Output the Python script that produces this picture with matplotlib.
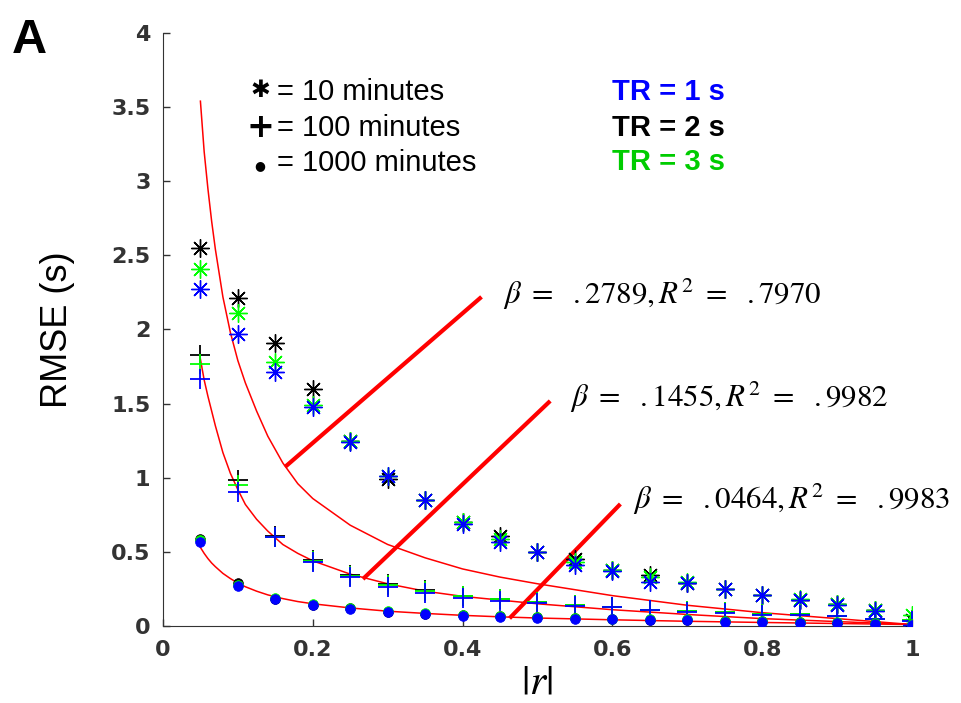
import numpy as np
import matplotlib
matplotlib.use("Agg")
import matplotlib.pyplot as plt

plt.rcParams['mathtext.fontset'] = 'stix'

# correlation values |r|
r = [0.05, 0.10, 0.15, 0.20, 0.25, 0.30, 0.35, 0.40, 0.45, 0.50,
     0.55, 0.60, 0.65, 0.70, 0.75, 0.80, 0.85, 0.90, 0.95, 1.00]

# 10 minutes (asterisk)
m10_tr1 = [2.27, 1.97, 1.71, 1.48, 1.24, 1.01, 0.85, 0.69, 0.57, 0.50,
           0.41, 0.37, 0.30, 0.29, 0.25, 0.21, 0.175, 0.145, 0.10, 0.01]
m10_tr2 = [2.55, 2.21, 1.91, 1.60, 1.25, 0.99, 0.85, 0.70, 0.61, 0.50,
           0.45, 0.38, 0.345, 0.29, 0.25, 0.21, 0.175, 0.15, 0.11, 0.04]
m10_tr3 = [2.41, 2.11, 1.78, 1.49, 1.25, 1.01, 0.85, 0.70, 0.59, 0.50,
           0.43, 0.38, 0.33, 0.30, 0.25, 0.21, 0.18, 0.15, 0.11, 0.075]

# 100 minutes (plus)
m100_tr1 = [1.665, 0.905, 0.60, 0.43, 0.33, 0.265, 0.22, 0.19, 0.17, 0.155,
            0.135, 0.125, 0.105, 0.095, 0.09, 0.075, 0.075, 0.065, 0.045, 0.035]
m100_tr2 = [1.825, 0.985, 0.605, 0.445, 0.345, 0.285, 0.24, 0.205, 0.18, 0.16,
            0.142, 0.13, 0.11, 0.10, 0.095, 0.08, 0.08, 0.07, 0.05, 0.04]
m100_tr3 = [1.77, 0.95, 0.60, 0.44, 0.34, 0.28, 0.235, 0.205, 0.18, 0.16,
            0.14, 0.13, 0.11, 0.10, 0.095, 0.08, 0.08, 0.07, 0.05, 0.04]

# 1000 minutes (dot)
m1000_tr1 = [0.57, 0.27, 0.18, 0.14, 0.115, 0.092, 0.08, 0.07, 0.062, 0.055,
             0.05, 0.045, 0.04, 0.04, 0.03, 0.03, 0.023, 0.02, 0.017, 0.01]
m1000_tr2 = [0.59, 0.29, 0.185, 0.145, 0.12, 0.095, 0.083, 0.073, 0.065, 0.058,
             0.052, 0.047, 0.042, 0.042, 0.032, 0.032, 0.025, 0.022, 0.019, 0.012]
m1000_tr3 = [0.58, 0.28, 0.19, 0.148, 0.122, 0.098, 0.086, 0.076, 0.068, 0.06,
             0.055, 0.05, 0.045, 0.045, 0.035, 0.035, 0.028, 0.025, 0.022, 0.015]

# fitted curves
fit_r = [0.05, 0.055, 0.06, 0.065, 0.07, 0.08, 0.09, 0.10, 0.11, 0.125, 0.14,
         0.16, 0.18, 0.20, 0.25, 0.30, 0.35, 0.40, 0.45, 0.50, 0.60, 0.70,
         0.80, 0.90, 1.00]
fit10 = [3.54, 3.20, 2.95, 2.73, 2.54, 2.22, 1.98, 1.79, 1.64, 1.45, 1.28,
         1.10, 0.96, 0.86, 0.68, 0.55, 0.46, 0.385, 0.33, 0.285, 0.205, 0.14,
         0.09, 0.05, 0.01]
fit100 = [1.80, 1.66, 1.55, 1.45, 1.35, 1.17, 1.03, 0.92, 0.82, 0.72, 0.64,
          0.55, 0.49, 0.44, 0.35, 0.285, 0.235, 0.20, 0.175, 0.15, 0.11, 0.078,
          0.05, 0.03, 0.01]
fit1000 = [0.53, 0.49, 0.455, 0.425, 0.40, 0.355, 0.32, 0.29, 0.265, 0.235, 0.21,
           0.185, 0.165, 0.15, 0.122, 0.10, 0.085, 0.072, 0.062, 0.054, 0.042,
           0.032, 0.024, 0.017, 0.01]

# fit labels and their leader lines
fit_labels = [r'$\beta\ =\ \ .2789, R^2\ =\ \ .7970$',
              r'$\beta\ =\ \ .1455, R^2\ =\ \ .9982$',
              r'$\beta\ =\ \ .0464, R^2\ =\ \ .9983$']
label_pos = [(0.454, 2.173), (0.5434, 1.478), (0.6275, 0.789)]
leader_x = [(0.163, 0.4253), (0.267, 0.517), (0.4627, 0.6107)]
leader_y = [(1.073, 2.22), (0.317, 1.518), (0.052, 0.823)]

tr_labels = ['TR = 1 s', 'TR = 2 s', 'TR = 3 s']
tr_colors = ['#0000ff', '#000000', '#00cc00']
dur_labels = ['= 10 minutes', '= 100 minutes', '= 1000 minutes']

blue = '#0000ff'
black = '#000000'
green = '#00ff00'
axcol = '#333333'

fig = plt.figure(figsize=(9.62, 7.03), dpi=100)
ax = fig.add_axes([0.1694, 0.1095, 0.7786, 0.8436])

# fits
for f in [fit10, fit100, fit1000]:
    ax.plot(fit_r, f, color='red', lw=1.1, zorder=2)

# leader lines
for lx, ly in zip(leader_x, leader_y):
    ax.plot(lx, ly, color='red', lw=3, solid_capstyle='butt', zorder=2)

star = (8, 2, 0)
for ys, c in [(m10_tr2, black), (m10_tr3, green), (m10_tr1, blue)]:
    ax.plot(r, ys, ls='none', marker=star, ms=13, mew=1.0, color=c, zorder=3)
for ys, c in [(m100_tr2, black), (m100_tr3, green), (m100_tr1, blue)]:
    ax.plot(r, ys, ls='none', marker='+', ms=14, mew=1.3, color=c, zorder=3)
for ys, c in [(m1000_tr2, black), (m1000_tr3, green), (m1000_tr1, blue)]:
    ax.plot(r, ys, ls='none', marker='o', ms=7, mew=0.5, color=c, zorder=3)

# fit annotations
for txt, (tx, ty) in zip(fit_labels, label_pos):
    ax.text(tx, ty, txt, fontsize=22.3, va='baseline', ha='left')

# key for durations
sym_y = [3.617, 3.36, 3.104]
syms = ['\u2731', '+', '\u25cf']
sym_size = [17, 24, 9]
base_y = [3.549, 3.306, 3.070]
for s, sy, ss in zip(syms, sym_y, sym_size):
    ax.text(0.1295, sy, s, fontsize=ss, fontweight='bold', ha='center',
            va='center', family='DejaVu Sans')
for lab, by in zip(dur_labels, base_y):
    ax.text(0.152, by, lab, fontsize=21, family='Liberation Sans',
            va='baseline', ha='left')
for lab, c, by in zip(tr_labels, tr_colors, [3.549, 3.306, 3.077]):
    ax.text(0.5995, by, lab, fontsize=21, family='Liberation Sans',
            fontweight='bold', color=c, va='baseline', ha='left')

ax.set_xlim(0, 1)
ax.set_ylim(0, 4)
ax.set_xticks([0, 0.2, 0.4, 0.6, 0.8, 1])
ax.set_xticklabels(['0', '0.2', '0.4', '0.6', '0.8', '1'])
ax.set_yticks([0, 0.5, 1, 1.5, 2, 2.5, 3, 3.5, 4])
ax.set_yticklabels(['0', '0.5', '1', '1.5', '2', '2.5', '3', '3.5', '4'])

for lab in ax.get_xticklabels() + ax.get_yticklabels():
    lab.set_fontweight('bold')
    lab.set_family('DejaVu Sans')
ax.tick_params(direction='in', length=5, width=1, color=axcol,
               labelcolor=axcol, labelsize=16)
ax.tick_params(axis='y', pad=9)
ax.tick_params(axis='x', pad=10)

ax.spines['top'].set_visible(False)
ax.spines['right'].set_visible(False)
ax.spines['left'].set_color(axcol)
ax.spines['bottom'].set_color(axcol)

ax.set_ylabel('RMSE (s)', fontsize=26, family='Liberation Sans')
ax.yaxis.set_label_coords(-0.118, 0.5)
ax.set_xlabel(r'$|r|$', fontsize=30)
ax.xaxis.set_label_coords(0.5, -0.058)

fig.text(12 / 962, 1 - 53 / 703, 'A', fontsize=35, fontweight='bold',
         family='Liberation Sans', va='baseline', ha='left')

fig.savefig('out.png', dpi=100)
